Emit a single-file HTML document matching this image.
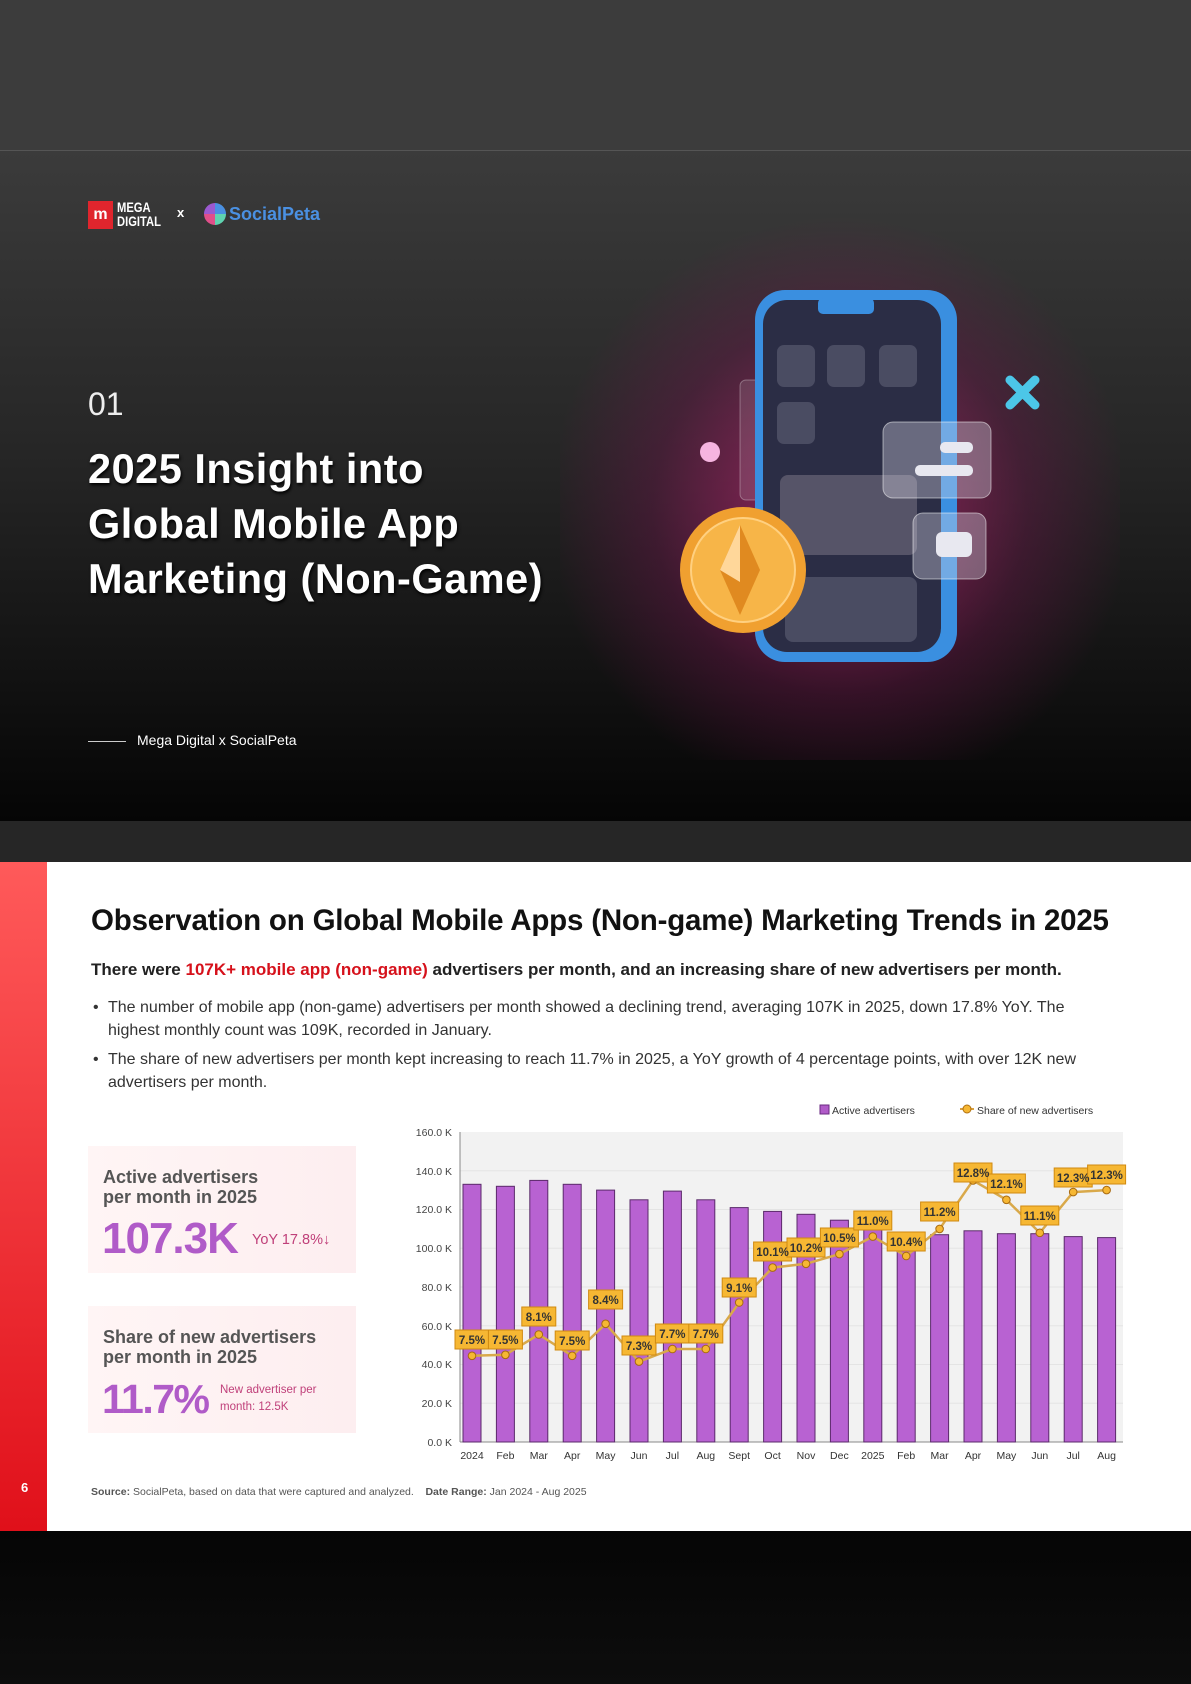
<!DOCTYPE html>
<html><head><meta charset="utf-8"><style>
*{margin:0;padding:0;box-sizing:border-box}
body{width:1191px;height:1684px;position:relative;background:#000;font-family:"Liberation Sans",sans-serif;overflow:hidden}
.abs{position:absolute}
</style></head><body>
<div class="abs" style="left:0;top:0;width:1191px;height:151px;background:#3c3c3c"></div>
<div class="abs" style="left:0;top:151px;width:1191px;height:670px;background:linear-gradient(#3b3b3b,#262626 45%,#050505)"></div>
<div class="abs" style="left:0;top:150px;width:1191px;height:1px;background:#555"></div>
<div class="abs" style="left:560px;top:200px;width:560px;height:560px;background:radial-gradient(circle at 50% 55%,rgba(200,40,120,0.75),rgba(120,20,80,0.35) 45%,rgba(0,0,0,0) 70%)"></div>
<div class="abs" style="left:88px;top:201px;width:25px;height:28px;background:#e0252d;color:#fff;font-weight:bold;font-size:16px;text-align:center;line-height:28px">m</div>
<div class="abs" style="left:117px;top:200px;color:#fff;font-weight:bold;font-size:14px;line-height:14px;transform:scaleX(0.8);transform-origin:left">MEGA<br>DIGITAL</div>
<div class="abs" style="left:177px;top:205px;color:#fff;font-weight:bold;font-size:13px">x</div>
<div class="abs" style="left:204px;top:203px;width:22px;height:22px;border-radius:50%;background:conic-gradient(#4a90e2 0 25%,#5fd3b0 25% 50%,#e04f8a 50% 75%,#9b59d0 75%)"></div>
<div class="abs" style="left:229px;top:204px;color:#4a90e2;font-weight:bold;font-size:18px">SocialPeta</div>
<div class="abs" style="left:88px;top:386px;color:#eee;font-size:32px">01</div>
<div class="abs" style="left:88px;top:441px;color:#fff;font-weight:bold;font-size:41.5px;line-height:55px;text-shadow:1px 2px 3px #000;white-space:nowrap;letter-spacing:0.5px">2025 Insight into<br>Global Mobile App<br>Marketing (Non-Game)</div>
<div class="abs" style="left:88px;top:741px;width:38px;height:1px;background:#ccc"></div>
<div class="abs" style="left:137px;top:732px;color:#fff;font-size:14px">Mega Digital x SocialPeta</div>
<svg class="abs" style="left:640px;top:270px" width="420" height="420" viewBox="0 0 420 420">
<rect x="100" y="110" width="60" height="120" rx="6" fill="rgba(255,255,255,0.12)" stroke="rgba(255,255,255,0.3)"/>
<rect x="115" y="20" width="202" height="372" rx="30" fill="#3a8fe0"/>
<rect x="123" y="30" width="178" height="352" rx="24" fill="#2b2d45"/>
<rect x="178" y="28" width="56" height="16" rx="5" fill="#3a8fe0"/>
<rect x="137" y="75" width="38" height="42" rx="7" fill="#4a4c62"/>
<rect x="187" y="75" width="38" height="42" rx="7" fill="#4a4c62"/>
<rect x="239" y="75" width="38" height="42" rx="7" fill="#4a4c62"/>
<rect x="137" y="132" width="38" height="42" rx="7" fill="#4a4c62"/>
<rect x="140" y="205" width="137" height="80" rx="8" fill="#565468"/>
<rect x="145" y="307" width="132" height="65" rx="8" fill="#4a4c62"/>
<rect x="243" y="152" width="108" height="76" rx="10" fill="rgba(220,220,235,0.35)" stroke="rgba(255,255,255,0.5)"/>
<rect x="300" y="172" width="33" height="11" rx="5" fill="#e8e8f0"/><rect x="275" y="195" width="58" height="11" rx="5" fill="#e8e8f0"/>
<rect x="273" y="243" width="73" height="66" rx="10" fill="rgba(220,220,235,0.35)" stroke="rgba(255,255,255,0.5)"/>
<rect x="296" y="262" width="36" height="25" rx="6" fill="#e8e8f0"/>
<circle cx="103" cy="300" r="63" fill="#f0a030"/><circle cx="103" cy="300" r="52" fill="#f7b548" stroke="#ffd080" stroke-width="2"/>
<polygon points="100,255 120,300 100,345 80,300" fill="#e08a20"/><polygon points="100,255 80,300 100,312" fill="#ffd79a"/>
<circle cx="70" cy="182" r="10" fill="#f6b4e0"/>
<path d="M370 110 L395 135 M395 110 L370 135" stroke="#4cc6e8" stroke-width="9" stroke-linecap="round"/>
</svg>
<div class="abs" style="left:0;top:821px;width:1191px;height:41px;background:#262626"></div>
<div class="abs" style="left:0;top:862px;width:1191px;height:669px;background:#fff"></div>
<div class="abs" style="left:0;top:862px;width:47px;height:669px;background:linear-gradient(#ff5a5a,#e0101a)"></div>
<div class="abs" style="left:21px;top:1480px;color:#fff;font-weight:bold;font-size:13px">6</div>
<div class="abs" style="left:91px;top:904px;color:#111;font-weight:bold;font-size:29.5px;white-space:nowrap;letter-spacing:-0.2px">Observation on Global Mobile Apps (Non-game) Marketing Trends in 2025</div>
<div class="abs" style="left:91px;top:960px;color:#222;font-weight:bold;font-size:17px;white-space:nowrap">There were <span style="color:#d6111b">107K+ mobile app (non-game)</span> advertisers per month, and an increasing share of new advertisers per month.</div>
<div class="abs" style="left:93px;top:996px;color:#333;font-size:16px;line-height:23px;white-space:nowrap">•</div>
<div class="abs" style="left:108px;top:996px;color:#333;font-size:16px;line-height:23px;white-space:nowrap">The number of mobile app (non-game) advertisers per month showed a declining trend, averaging 107K in 2025, down 17.8% YoY. The<br>highest monthly count was 109K, recorded in January.</div>
<div class="abs" style="left:93px;top:1048px;color:#333;font-size:16px;line-height:23px">•</div>
<div class="abs" style="left:108px;top:1048px;color:#333;font-size:16px;line-height:23px;white-space:nowrap">The share of new advertisers per month kept increasing to reach 11.7% in 2025, a YoY growth of 4 percentage points, with over 12K new<br>advertisers per month.</div>
<div class="abs" style="left:88px;top:1146px;width:268px;height:127px;background:linear-gradient(90deg,#fff5f5,#fdeef0)"></div>
<div class="abs" style="left:103px;top:1167px;color:#555;font-weight:bold;font-size:18px;line-height:20px">Active advertisers<br>per month in 2025</div>
<div class="abs" style="left:102px;top:1214px;color:#b05bc8;font-weight:bold;font-size:44px;letter-spacing:-1px">107.3K</div>
<div class="abs" style="left:252px;top:1232px;color:#c0407a;font-size:14.5px">YoY 17.8%↓</div>
<div class="abs" style="left:88px;top:1306px;width:268px;height:127px;background:linear-gradient(90deg,#fff5f5,#fdeef0)"></div>
<div class="abs" style="left:103px;top:1327px;color:#555;font-weight:bold;font-size:18px;line-height:20px">Share of new advertisers<br>per month in 2025</div>
<div class="abs" style="left:102px;top:1376px;color:#b05bc8;font-weight:bold;font-size:41px;letter-spacing:-1.5px">11.7%</div>
<div class="abs" style="left:220px;top:1382px;color:#c0407a;font-size:11.5px;line-height:17px">New advertiser per<br>month: 12.5K</div>
<svg class="abs" style="left:0;top:0" width="1191" height="1684" font-family="Liberation Sans, sans-serif">
<rect x="820" y="1105" width="9" height="9" fill="#b05bc8" stroke="#6a2a80"/>
<text x="832" y="1114" font-size="10.5" fill="#333">Active advertisers</text>
<line x1="960" y1="1109" x2="974" y2="1109" stroke="#d9a040" stroke-width="2"/><circle cx="967" cy="1109" r="4" fill="#f6b733" stroke="#b07010"/>
<text x="977" y="1114" font-size="10.5" fill="#333">Share of new advertisers</text>
<rect x="460" y="1132" width="663" height="310" fill="#f2f2f2"/>
<g stroke="#e4e4e4"><line x1="460" y1="1170.75" x2="1123" y2="1170.75"/><line x1="460" y1="1209.5" x2="1123" y2="1209.5"/><line x1="460" y1="1248.25" x2="1123" y2="1248.25"/><line x1="460" y1="1287" x2="1123" y2="1287"/><line x1="460" y1="1325.75" x2="1123" y2="1325.75"/><line x1="460" y1="1364.5" x2="1123" y2="1364.5"/><line x1="460" y1="1403.25" x2="1123" y2="1403.25"/></g>
<line x1="460" y1="1132" x2="460" y2="1442" stroke="#888"/><line x1="460" y1="1442" x2="1123" y2="1442" stroke="#888"/>
<g font-size="10.5" fill="#444" text-anchor="end">
<text x="452" y="1136">160.0 K</text><text x="452" y="1175">140.0 K</text><text x="452" y="1213">120.0 K</text><text x="452" y="1252">100.0 K</text><text x="452" y="1291">80.0 K</text><text x="452" y="1330">60.0 K</text><text x="452" y="1368">40.0 K</text><text x="452" y="1407">20.0 K</text><text x="452" y="1446">0.0 K</text></g>
<g fill="#b862d2" stroke="#5a2a6a" stroke-width="1">
<rect x="463" y="1184.3" width="18" height="257.7"/><rect x="496.4" y="1186.3" width="18" height="255.7"/><rect x="529.8" y="1180.4" width="18" height="261.6"/><rect x="563.2" y="1184.3" width="18" height="257.7"/><rect x="596.6" y="1190.1" width="18" height="251.9"/><rect x="630" y="1199.8" width="18" height="242.2"/><rect x="663.4" y="1191.1" width="18" height="250.9"/><rect x="696.8" y="1199.8" width="18" height="242.2"/><rect x="730.2" y="1207.6" width="18" height="234.4"/><rect x="763.6" y="1211.4" width="18" height="230.6"/><rect x="797" y="1214.3" width="18" height="227.7"/><rect x="830.4" y="1220.2" width="18" height="221.8"/><rect x="863.8" y="1228.9" width="18" height="213.1"/><rect x="897.2" y="1250.2" width="18" height="191.8"/><rect x="930.6" y="1234.7" width="18" height="207.3"/><rect x="964" y="1230.8" width="18" height="211.2"/><rect x="997.4" y="1233.7" width="18" height="208.3"/><rect x="1030.8" y="1233.7" width="18" height="208.3"/><rect x="1064.2" y="1236.6" width="18" height="205.4"/><rect x="1097.6" y="1237.6" width="18" height="204.4"/></g>
<polyline fill="none" stroke="#d9a94a" stroke-width="2.5" points="472,1355.8 505.4,1354.8 538.8,1334.5 572.2,1355.8 605.6,1323.8 639,1361.6 672.4,1349 705.8,1349 739.2,1302.5 772.6,1267.6 806,1263.8 839.4,1254.1 872.8,1236.6 906.2,1256 939.6,1228.9 973,1180.4 1006.4,1199.8 1039.8,1232.8 1073.2,1192.1 1106.6,1190.1"/>
<g fill="#f6b733" stroke="#a86a10" stroke-width="1">
<circle cx="472" cy="1355.8" r="3.8"/><circle cx="505.4" cy="1354.8" r="3.8"/><circle cx="538.8" cy="1334.5" r="3.8"/><circle cx="572.2" cy="1355.8" r="3.8"/><circle cx="605.6" cy="1323.8" r="3.8"/><circle cx="639" cy="1361.6" r="3.8"/><circle cx="672.4" cy="1349" r="3.8"/><circle cx="705.8" cy="1349" r="3.8"/><circle cx="739.2" cy="1302.5" r="3.8"/><circle cx="772.6" cy="1267.6" r="3.8"/><circle cx="806" cy="1263.8" r="3.8"/><circle cx="839.4" cy="1254.1" r="3.8"/><circle cx="872.8" cy="1236.6" r="3.8"/><circle cx="906.2" cy="1256" r="3.8"/><circle cx="939.6" cy="1228.9" r="3.8"/><circle cx="973" cy="1180.4" r="3.8"/><circle cx="1006.4" cy="1199.8" r="3.8"/><circle cx="1039.8" cy="1232.8" r="3.8"/><circle cx="1073.2" cy="1192.1" r="3.8"/><circle cx="1106.6" cy="1190.1" r="3.8"/></g>
<g fill="#f6b733" stroke="#d08a10" stroke-width="1">
<rect x="455" y="1330" width="34" height="19"/><rect x="488.4" y="1330" width="34" height="19"/><rect x="521.8" y="1307" width="34" height="19"/><rect x="555.2" y="1331" width="34" height="19"/><rect x="588.6" y="1290" width="34" height="19"/><rect x="622" y="1336" width="34" height="19"/><rect x="655.4" y="1324" width="34" height="19"/><rect x="688.8" y="1324" width="34" height="19"/><rect x="722.2" y="1278" width="34" height="19"/><rect x="753.6" y="1242" width="38" height="19"/><rect x="787" y="1238" width="38" height="19"/><rect x="820.4" y="1228" width="38" height="19"/><rect x="853.8" y="1211" width="38" height="19"/><rect x="887.2" y="1232" width="38" height="19"/><rect x="920.6" y="1202" width="38" height="19"/><rect x="954" y="1163" width="38" height="19"/><rect x="987.4" y="1174" width="38" height="19"/><rect x="1020.8" y="1206" width="38" height="19"/><rect x="1054.2" y="1168" width="38" height="19"/><rect x="1087.6" y="1165" width="38" height="19"/></g>
<g font-size="11.5" font-weight="bold" fill="#333" text-anchor="middle">
<text x="472" y="1344">7.5%</text><text x="505.4" y="1344">7.5%</text><text x="538.8" y="1321">8.1%</text><text x="572.2" y="1345">7.5%</text><text x="605.6" y="1304">8.4%</text><text x="639" y="1350">7.3%</text><text x="672.4" y="1338">7.7%</text><text x="705.8" y="1338">7.7%</text><text x="739.2" y="1292">9.1%</text><text x="772.6" y="1256">10.1%</text><text x="806" y="1252">10.2%</text><text x="839.4" y="1242">10.5%</text><text x="872.8" y="1225">11.0%</text><text x="906.2" y="1246">10.4%</text><text x="939.6" y="1216">11.2%</text><text x="973" y="1177">12.8%</text><text x="1006.4" y="1188">12.1%</text><text x="1039.8" y="1220">11.1%</text><text x="1073.2" y="1182">12.3%</text><text x="1106.6" y="1179">12.3%</text></g>
<g font-size="10.5" fill="#333" text-anchor="middle">
<text x="472" y="1459">2024</text><text x="505.4" y="1459">Feb</text><text x="538.8" y="1459">Mar</text><text x="572.2" y="1459">Apr</text><text x="605.6" y="1459">May</text><text x="639" y="1459">Jun</text><text x="672.4" y="1459">Jul</text><text x="705.8" y="1459">Aug</text><text x="739.2" y="1459">Sept</text><text x="772.6" y="1459">Oct</text><text x="806" y="1459">Nov</text><text x="839.4" y="1459">Dec</text><text x="872.8" y="1459">2025</text><text x="906.2" y="1459">Feb</text><text x="939.6" y="1459">Mar</text><text x="973" y="1459">Apr</text><text x="1006.4" y="1459">May</text><text x="1039.8" y="1459">Jun</text><text x="1073.2" y="1459">Jul</text><text x="1106.6" y="1459">Aug</text></g>
</svg>
<div class="abs" style="left:91px;top:1486px;color:#555;font-size:10.5px;white-space:nowrap"><b>Source:</b> SocialPeta, based on data that were captured and analyzed. &nbsp;&nbsp;&nbsp;<b>Date Range:</b> Jan 2024 - Aug 2025</div>
<div class="abs" style="left:0;top:1531px;width:1191px;height:153px;background:linear-gradient(#050505,#0d0d0d)"></div>
</body></html>
